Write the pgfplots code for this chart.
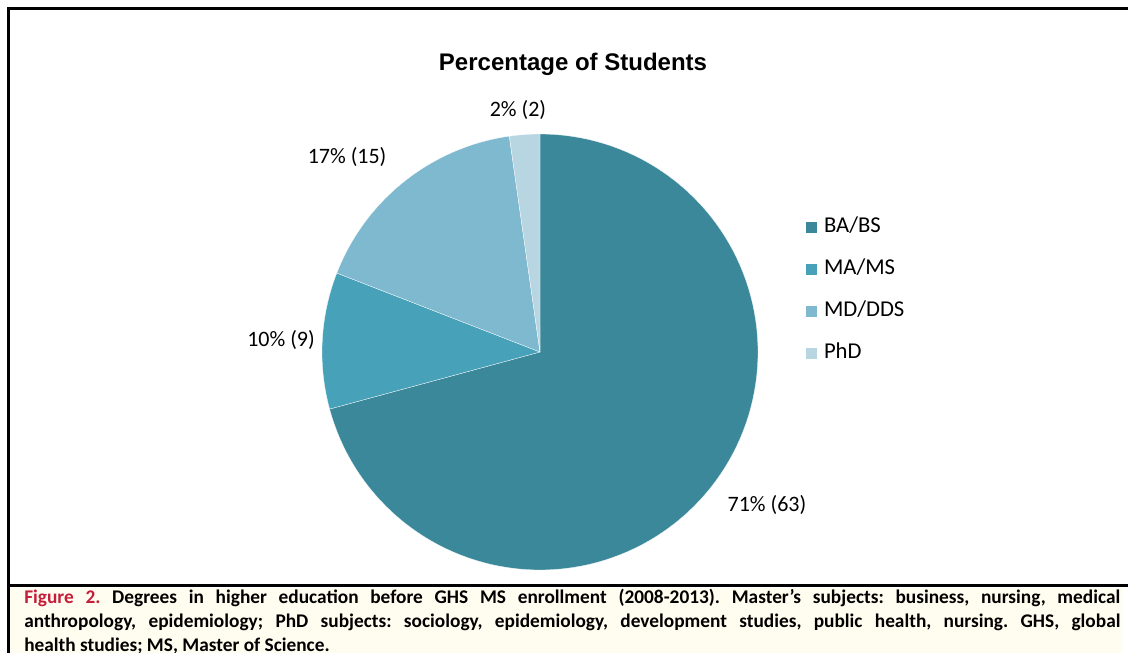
\documentclass[border=0pt]{standalone}
\usepackage{pgfplots}
\usepackage{pgfplotstable}
\pgfplotsset{compat=1.18}
\usepackage{fontspec}
\setmainfont{Carlito}
\newfontfamily\titlefont{Liberation Sans}
\definecolor{cA}{HTML}{3B889A}
\definecolor{cB}{HTML}{47A2B9}
\definecolor{cC}{HTML}{7EB9CF}
\definecolor{cD}{HTML}{B8D6E1}
\definecolor{capbg}{HTML}{FFFDEF}
\definecolor{capred}{HTML}{C41E3A}

\pgfplotstableread{
label value
BA/BS 63
MA/MS 9
MD/DDS 15
PhD 2
}\piedata

\begin{document}%
\frenchspacing%
\begin{tikzpicture}[x=0.75pt,y=0.75pt]
\pgfplotstablegetelem{0}{value}\of\piedata\let\vA\pgfplotsretval
\pgfplotstablegetelem{1}{value}\of\piedata\let\vB\pgfplotsretval
\pgfplotstablegetelem{2}{value}\of\piedata\let\vC\pgfplotsretval
\pgfplotstablegetelem{3}{value}\of\piedata\let\vD\pgfplotsretval
\pgfmathsetmacro\tot{\vA+\vB+\vC+\vD}
\pgfmathsetmacro\aA{90}
\pgfmathsetmacro\aB{\aA-(\vA/\tot)*360}
\pgfmathsetmacro\aC{\aB-(\vB/\tot)*360}
\pgfmathsetmacro\aD{\aC-(\vC/\tot)*360}
\pgfmathsetmacro\aE{\aD-(\vD/\tot)*360}
\useasboundingbox (0,0) rectangle (1128,653);
\clip (0,0) rectangle (1128,653);
% caption background (pixel y measured from top: y' = 653 - y)
\fill[capbg] (10,0) rectangle (1122,65);
% frame
\draw[line width=2.25pt] (8.5,0) -- (8.5,644) -- (1128,644);
\draw[line width=2.25pt] (8.5,67) -- (1128,67);
% title
\node[anchor=base, font=\titlefont\bfseries\fontsize{18}{20}\selectfont, inner sep=0pt] at (573,582) {Percentage of Students};
\begin{axis}[
  at={(405pt,225.75pt)}, anchor=center,
  width=327pt, height=327pt, scale only axis,
  xmin=-1, xmax=1, ymin=-1, ymax=1,
  hide axis, clip=false,
  legend style={draw=none, fill=none, at={(1.108,0.8095)}, anchor=north west,
    inner sep=0pt, outer sep=0pt, row sep=16.5pt,
    font=\fontsize{17}{18}\selectfont,
    nodes={inner sep=0pt, text height=11.5pt, text depth=3.5pt},
    /tikz/every odd column/.append style={column sep=5pt}},
  legend cell align=left,
  legend image code/.code={\fill[#1] (0pt,-4.5pt) rectangle (9pt,4.5pt);},
]
\addplot[fill=cA, draw=white, line width=0.2pt, domain=\aB:\aA, samples=120] ({cos(x)},{sin(x)}) -- (axis cs:0,0) -- cycle;
\addlegendentry{BA/BS}
\addplot[fill=cB, draw=white, line width=0.2pt, domain=\aC:\aB, samples=30] ({cos(x)},{sin(x)}) -- (axis cs:0,0) -- cycle;
\addlegendentry{MA/MS}
\addplot[fill=cC, draw=white, line width=0.2pt, domain=\aD:\aC, samples=40] ({cos(x)},{sin(x)}) -- (axis cs:0,0) -- cycle;
\addlegendentry{MD/DDS}
\addplot[fill=cD, draw=white, line width=0.2pt, domain=\aE:\aD, samples=10] ({cos(x)},{sin(x)}) -- (axis cs:0,0) -- cycle;
\addlegendentry{PhD}
\begin{scope}[every node/.style={font=\fontsize{16.5}{18}\selectfont, inner sep=0pt}]
\node at (axis cs:1.041,-0.702) {71\% (63)};
\node at (axis cs:-1.188,0.055) {10\% (9)};
\node at (axis cs:-0.885,0.894) {17\% (15)};
\node at (axis cs:-0.101,1.11) {2\% (2)};
\end{scope}
\end{axis}
% caption
\node[anchor=base west, text width=822pt, align=justify, inner sep=0pt,
  font=\bfseries\fontsize{14.5}{18}\selectfont] at (24,49)
{\textcolor{capred}{Figure 2.} Degrees in higher education before GHS MS enrollment (2008-2013). Master's subjects: business, nursing, medical\linebreak
anthropology, epidemiology; PhD subjects: sociology, epidemiology, development studies, public health, nursing. GHS, global\linebreak
health studies; MS, Master of Science.};
\end{tikzpicture}%
\end{document}
